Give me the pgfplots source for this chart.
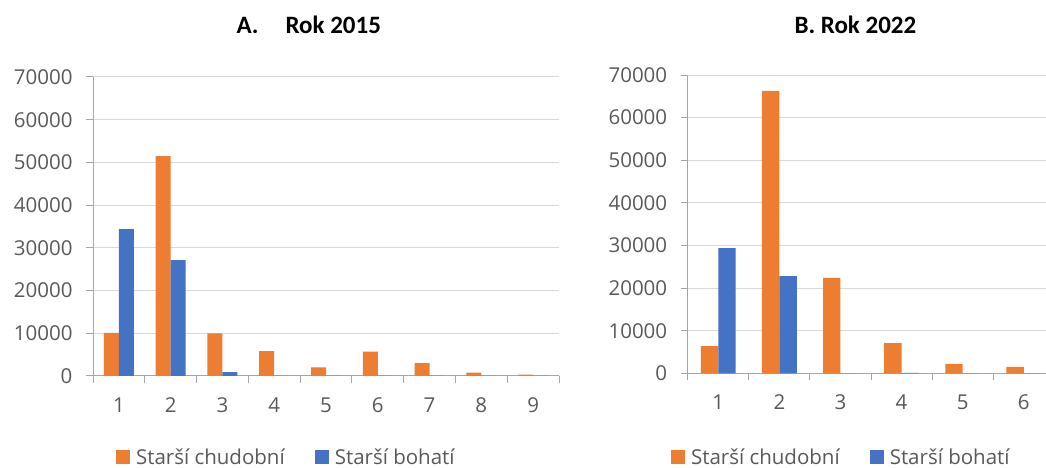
\documentclass[border=0pt]{standalone}
\usepackage{pgfplots}
\pgfplotsset{compat=1.18}
\usepackage{pgfplotstable}
\usepackage{fontspec}
\setmainfont{Carlito}
\newfontfamily\lbl{Open Sans}
\definecolor{cOrange}{HTML}{ED7D31}
\definecolor{cBlue}{HTML}{4472C4}
\definecolor{cGrid}{HTML}{D9D9D9}
\definecolor{cAxis}{HTML}{A6A6A6}
\definecolor{cText}{HTML}{595959}

\pgfplotstableread{
x poor rich
1 10100 34400
2 51500 27100
3 10000 900
4 5800 0
5 2000 0
6 5700 0
7 3000 0
8 800 0
9 300 0
}\dataA

\pgfplotstableread{
x poor rich
1 6400 29400
2 66300 22800
3 22400 0
4 7100 100
5 2200 0
6 1500 0
}\dataB

\pgfplotsset{
  excel/.style={
    scale only axis, anchor=south west,
    ybar=0pt,
    ymin=0, ymax=70000, ytick={0,10000,...,70000},
    ymajorgrids, major grid style={cGrid, line width=1pt},
    axis x line*=bottom, axis y line*=left,
    axis line style={cAxis, line width=1pt, -},
    tick style={cAxis, line width=1pt},
    tick align=outside,
    major tick length=7pt,
    minor tick length=7pt,
    major x tick style={draw=none},
    /pgf/number format/assume math mode=true,
    /pgf/number format/set thousands separator={},
    scaled y ticks=false,
    ticklabel style={font=\lbl\fontsize{20.5}{24}\selectfont, text=cText},
    xticklabel style={yshift=-11pt},
    yticklabel style={xshift=-10pt},
    legend columns=2,
    legend style={draw=none, fill=none, inner sep=0pt, outer sep=0pt,
      column sep=6pt, row sep=0pt,
      font=\lbl\fontsize{20.5}{24}\selectfont, text=cText,
      nodes={inner sep=0pt},
      /tikz/every even column/.append style={column sep=30pt}},
  },
  sqO/.style={legend image code/.code={\fill[cOrange] (0pt,-7pt) rectangle (14pt,7pt);}},
  sqB/.style={legend image code/.code={\fill[cBlue] (0pt,-7pt) rectangle (14pt,7pt);}},
}

\begin{document}
\begin{tikzpicture}
\useasboundingbox (0,0) rectangle (1046pt,468pt);
\clip (0,0) rectangle (1046pt,468pt);

\begin{axis}[excel,
  at={(93pt,92pt)}, width=466pt, height=299pt,
  xmin=0.5, xmax=9.5,
  xtick={1,...,9},
  minor xtick={0.5,1.5,...,9.5},
  bar width=15pt,
  legend style={at={(0.0494,-0.272)}, anchor=west},
]
\addplot[fill=cOrange, draw=none, sqO] table[x=x, y=poor] {\dataA};
\addlegendentry{Starší chudobní}
\addplot[fill=cBlue, draw=none, sqB] table[x=x, y=rich] {\dataA};
\addlegendentry{Starší bohatí}
\end{axis}

\begin{axis}[excel,
  at={(687.7pt,94.7pt)}, width=358.3pt, height=298.3pt,
  xmin=0.5, xmax=6.364,
  xtick={1,...,6},
  minor xtick={0.5,1.5,...,6.5},
  bar width=17.4pt,
  legend style={at={(-0.0466,-0.2815)}, anchor=west},
]
\addplot[fill=cOrange, draw=none, sqO] table[x=x, y=poor] {\dataB};
\addlegendentry{Starší chudobní}
\addplot[fill=cBlue, draw=none, sqB] table[x=x, y=rich] {\dataB};
\addlegendentry{Starší bohatí}
\end{axis}

\node[anchor=base west, font=\bfseries\fontsize{25}{30}\selectfont] at (233pt,434pt) {A.\hspace{27pt}Rok 2015};
\node[anchor=base west, font=\bfseries\fontsize{25}{30}\selectfont] at (791pt,434pt) {B. Rok 2022};
\end{tikzpicture}
\end{document}
